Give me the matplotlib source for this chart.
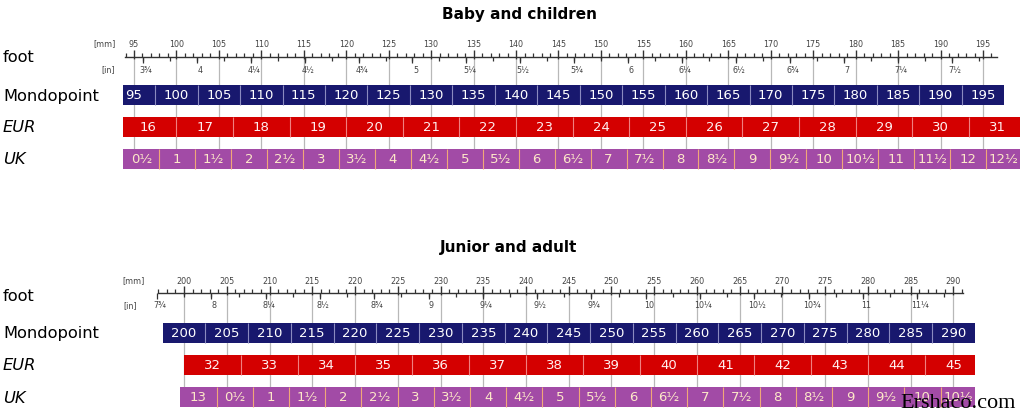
import numpy as np
import matplotlib
matplotlib.use("Agg")
import matplotlib.pyplot as plt

# ---------------- data ----------------
top_mondo = [95, 100, 105, 110, 115, 120, 125, 130, 135, 140, 145, 150, 155, 160,
             165, 170, 175, 180, 185, 190, 195]
top_eur = [16, 17, 18, 19, 20, 21, 22, 23, 24, 25, 26, 27, 28, 29, 30, 31]
top_uk = [0.5, 1, 1.5, 2, 2.5, 3, 3.5, 4, 4.5, 5, 5.5, 6, 6.5, 7, 7.5, 8, 8.5,
          9, 9.5, 10, 10.5, 11, 11.5, 12, 12.5]
top_uk_labels = ["0½", "1", "1½", "2", "2½", "3", "3½", "4", "4½", "5", "5½", "6",
                 "6½", "7", "7½", "8", "8½", "9", "9½", "10", "10½", "11", "11½",
                 "12", "12½"]
top_in = [3.75, 4, 4.25, 4.5, 4.75, 5, 5.25, 5.5, 5.75, 6, 6.25, 6.5, 6.75, 7,
          7.25, 7.5]
top_in_labels = ["3¾", "4", "4¼", "4½", "4¾", "5", "5¼", "5½", "5¾", "6", "6¼",
                 "6½", "6¾", "7", "7¼", "7½"]

bot_mondo = [200, 205, 210, 215, 220, 225, 230, 235, 240, 245, 250, 255, 260,
             265, 270, 275, 280, 285, 290]
bot_eur = [32, 33, 34, 35, 36, 37, 38, 39, 40, 41, 42, 43, 44, 45]
# UK sizes on the continuous child scale (adult n = child n + 13)
bot_uk = [13, 13.5, 14, 14.5, 15, 15.5, 16, 16.5, 17, 17.5, 18, 18.5, 19, 19.5,
          20, 20.5, 21, 21.5, 22, 22.5, 23, 23.5]
bot_uk_labels = ["13", "0½", "1", "1½", "2", "2½", "3", "3½", "4", "4½", "5", "5½",
                 "6", "6½", "7", "7½", "8", "8½", "9", "9½", "10", "10½"]
bot_in = [7.75, 8, 8.25, 8.5, 8.75, 9, 9.25, 9.5, 9.75, 10, 10.25, 10.5, 10.75,
          11, 11.25]
bot_in_labels = ["7¾", "8", "8¼", "8½", "8¾", "9", "9¼", "9½", "9¾", "10", "10¼",
                 "10½", "10¾", "11", "11¼"]

# ---------------- size-system scales (mm of foot) ----------------
PARIS_POINT = 20.0 / 3.0        # EUR step (mm)
BARLEYCORN = 25.4 / 3.0         # UK step (mm)
UK_CHILD1_CENTER = 100.1        # foot length at UK child size 1 (mm)


def eur_span(n):
    return (n - 2) * PARIS_POINT, (n - 1) * PARIS_POINT


def uk_center(s):
    return UK_CHILD1_CENTER + (s - 1) * BARLEYCORN

# ---------------- style ----------------
W, H = 1024, 415
NAVY = "#18186e"
RED = "#d40000"
PURPLE = "#a24ba6"
GRID = "#b8b8b8"
RULER = "#333333"

fig = plt.figure(figsize=(W / 100, H / 100), dpi=100)


def ftext(xpx, ypx, s, **kw):
    fig.text(xpx / W, 1 - ypx / H, s, **kw)


def panel(title, title_xy, mm_ref, px_ref, ppm, xlim, yrange, ruler_rng,
          in_offset, mondo, eur, uk, uk_labels, inches, in_labels, rows,
          unit_px, label_y):
    ytop, ybot = yrange
    x0 = px_ref + (xlim[0] - mm_ref) * ppm
    x1 = px_ref + (xlim[1] - mm_ref) * ppm
    ax = fig.add_axes([x0 / W, 1 - ybot / H, (x1 - x0) / W, (ybot - ytop) / H])
    ax.set_xlim(*xlim)
    ax.set_ylim(ybot, ytop)
    ax.axis("off")

    ry, mm_lab_y, in_lab_y, mond_y, eur_y, uk_y = rows
    bh = 20

    # grey guide lines at mm labels
    ax.vlines(mondo, ry + 2, uk_y, color=GRID, lw=0.9, zorder=1)

    # ruler
    ax.plot(ruler_rng, [ry, ry], color=RULER, lw=1.0, zorder=3)
    mm_ticks = np.arange(np.ceil(ruler_rng[0]), np.floor(ruler_rng[1]) + 1)
    minor = [t for t in mm_ticks if t % 5 != 0]
    major = [t for t in mm_ticks if t % 5 == 0]
    ax.vlines(minor, ry - 3.5, ry, color=RULER, lw=0.9, zorder=3)
    ax.vlines(major, ry - 7, ry + 2, color=RULER, lw=1.0, zorder=3)
    for v in mondo:
        ax.text(v, mm_lab_y, str(v), ha="center", va="center", fontsize=5.8,
                color="#444444")
    eighths = np.arange(np.ceil((ruler_rng[0] - in_offset) / 25.4 * 8),
                        np.floor((ruler_rng[1] - in_offset) / 25.4 * 8) + 1) / 8
    ax.vlines(eighths * 25.4 + in_offset, ry, ry + 4.5, color=RULER, lw=0.9,
              zorder=3)
    ax.vlines(np.array(inches) * 25.4 + in_offset, ry, ry + 6, color=RULER,
              lw=0.9, zorder=3)
    for v, lab in zip(inches, in_labels):
        ax.text(v * 25.4 + in_offset + 0.35, in_lab_y, lab, ha="center",
                va="center", fontsize=5.8, color="#444444")
    ftext(unit_px[0], mm_lab_y, "[mm]", ha="center", va="center",
          fontsize=5.8, color="#444444")
    ftext(unit_px[1], in_lab_y, "[in]", ha="center", va="center",
          fontsize=5.8, color="#444444")

    # Mondopoint
    ax.bar(mondo, bh, width=5, bottom=mond_y, color=NAVY, lw=0, zorder=2)
    ax.vlines(np.array(mondo[:-1]) + 2.5, mond_y, mond_y + bh, color="#8a8ac0",
              lw=0.8, zorder=2.5)
    for v in mondo:
        ax.text(v, mond_y + bh / 2 + 0.5, str(v), ha="center", va="center",
                fontsize=9.5, color="white", zorder=4)

    # EUR
    spans = [eur_span(n) for n in eur]
    lefts = [s[0] for s in spans]
    ax.bar(lefts, bh, width=PARIS_POINT, bottom=eur_y, align="edge", color=RED,
           lw=0, zorder=2)
    ax.vlines(lefts[1:], eur_y, eur_y + bh, color="#f08080", lw=0.8, zorder=2.5)
    for n, (a, b) in zip(eur, spans):
        ax.text((a + b) / 2, eur_y + bh / 2 + 0.5, str(n), ha="center",
                va="center", fontsize=9.5, color="#fff0f0", zorder=4)

    # UK
    centers = [uk_center(s) for s in uk]
    ax.bar(centers, bh, width=BARLEYCORN / 2, bottom=uk_y, color=PURPLE, lw=0,
           zorder=2)
    ax.vlines(np.array(centers[1:]) - BARLEYCORN / 4, uk_y, uk_y + bh,
              color="#f0a878", lw=0.8, zorder=2.5)
    for c, lab in zip(centers, uk_labels):
        ax.text(c, uk_y + bh / 2 + 0.5, lab, ha="center", va="center",
                fontsize=9.5, color="#fde8c8", zorder=4)

    # titles and row labels
    ftext(title_xy[0], title_xy[1], title, ha="center", va="center",
          fontsize=11, fontweight="heavy", color="black")
    names = ["foot", "Mondopoint", "EUR", "UK"]
    styles = ["normal", "normal", "italic", "italic"]
    for name, st, y in zip(names, styles, label_y):
        ftext(3, y, name, ha="left", va="center", fontsize=11.7, style=st,
              color="black")
    return ax


panel("Baby and children", (519, 15), 95, 134, 8.49, (93.75, 199.3),
      (28, 175), (93.9, 196.6), 0.8, top_mondo, top_eur, top_uk,
      top_uk_labels, top_in, top_in_labels,
      (57, 44, 70, 85, 117, 149), (104.5, 108), (58, 96, 127, 159))

panel("Junior and adult", (509, 247), 200, 184, 8.55, (196.5, 292.5),
      (262, 412), (197.0, 291.1), 0.0, bot_mondo, bot_eur, bot_uk,
      bot_uk_labels, bot_in, bot_in_labels,
      (293, 281, 306, 323, 355, 387), (134, 130), (296, 333, 365, 398))

ftext(958, 403, "Ershaco.com", ha="center", va="center", fontsize=16,
      family="Liberation Serif", color="black")

fig.savefig("out.png", dpi=100, facecolor="white")
